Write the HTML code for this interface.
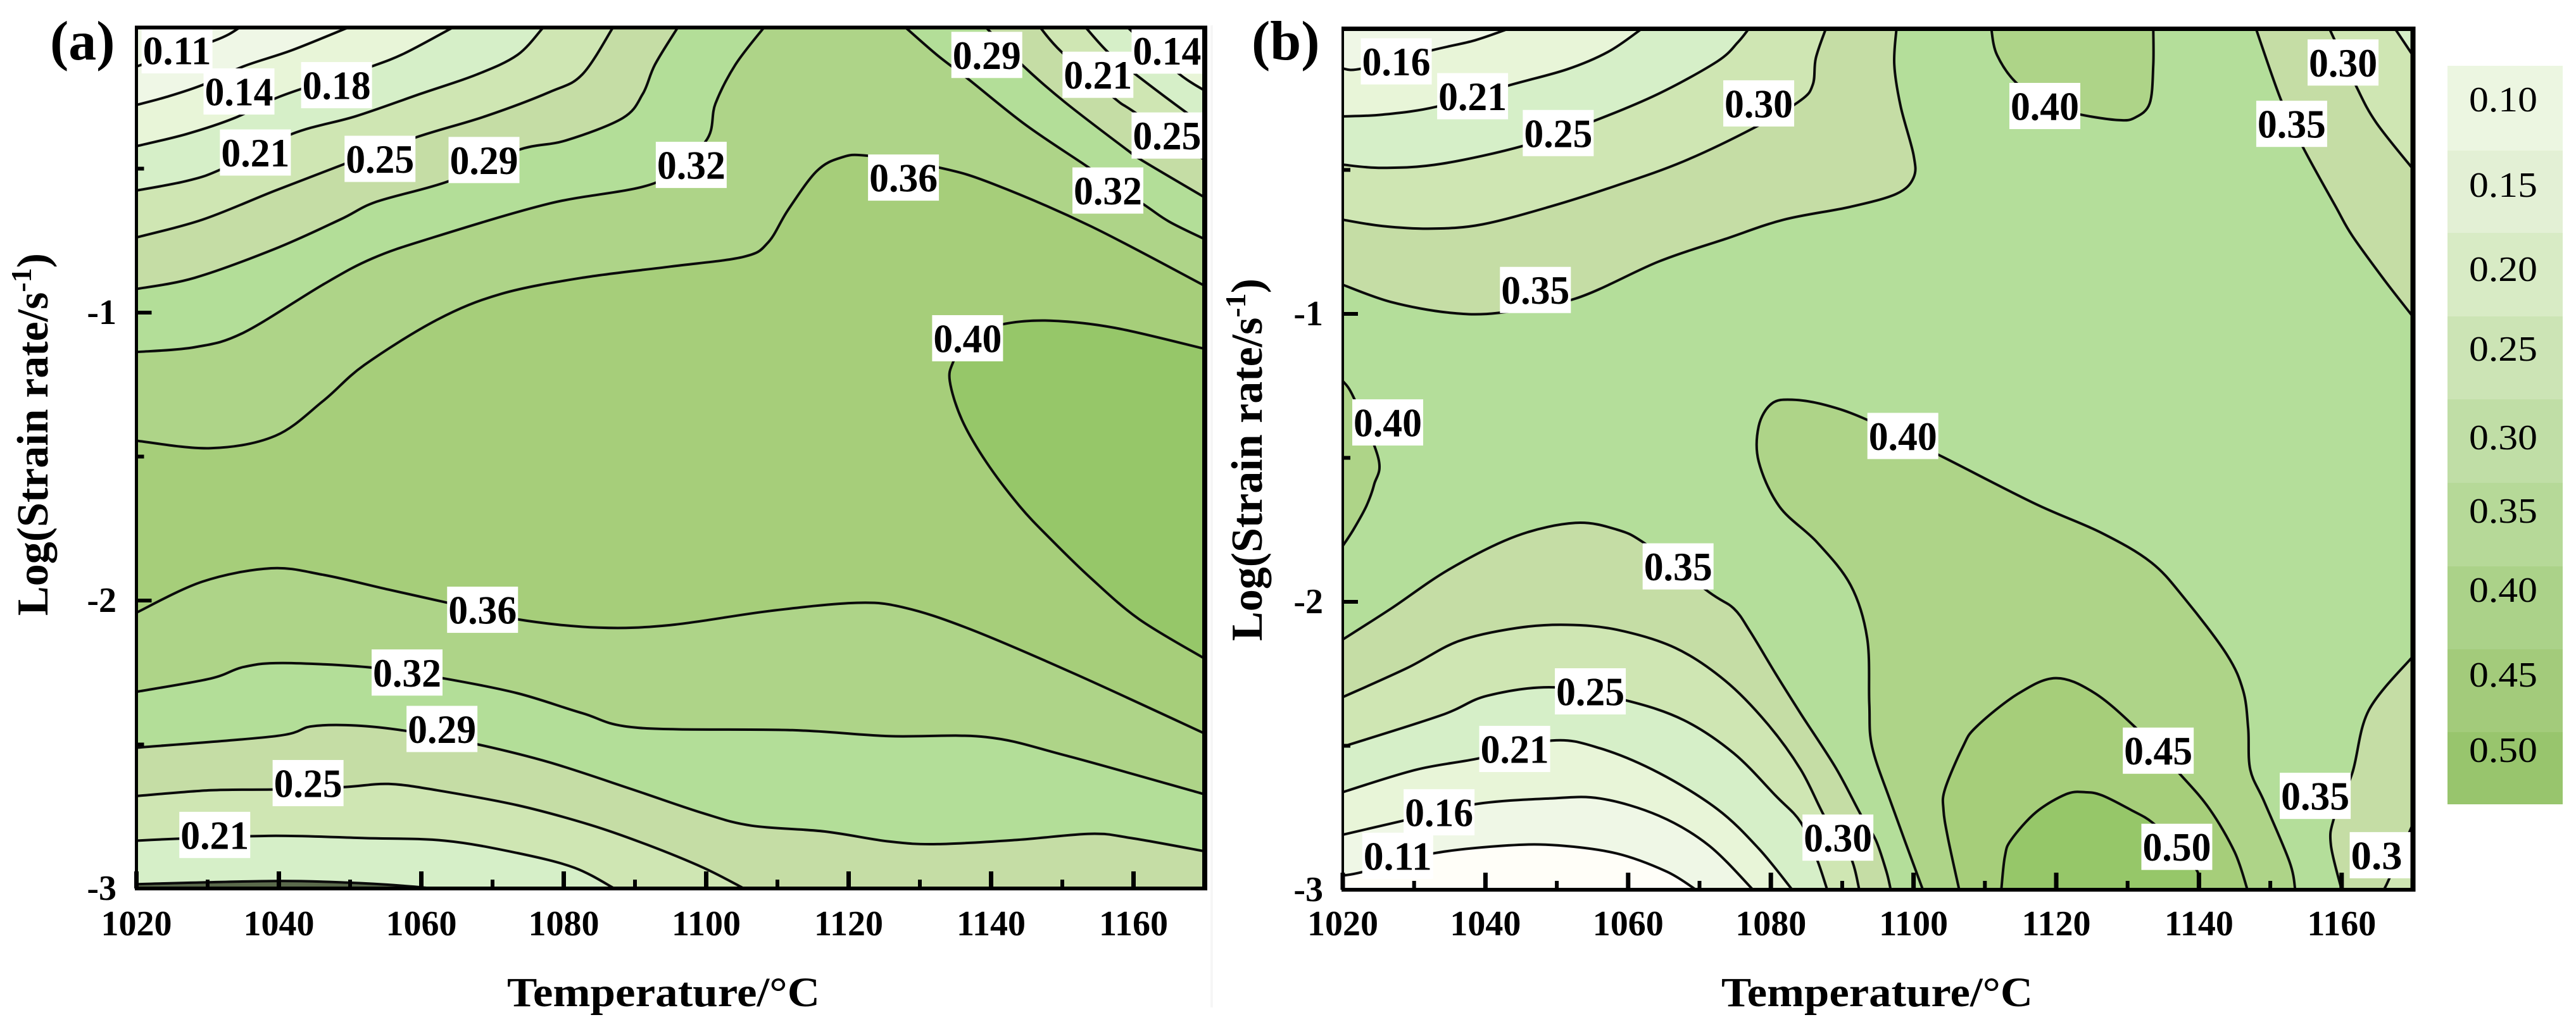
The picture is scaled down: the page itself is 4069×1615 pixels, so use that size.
<!DOCTYPE html>
<html lang="en">
<head>
<meta charset="utf-8">
<title>Contour maps (a) and (b)</title>
<style>
html,body{margin:0;padding:0;background:#fff;width:4069px;height:1615px;overflow:hidden}
svg{display:block}
text{font-family:"Liberation Serif",serif;fill:#000}
.b{font-weight:bold}
</style>
</head>
<body>
<svg id="chart" xmlns="http://www.w3.org/2000/svg" width="4069" height="1615" viewBox="0 0 4069 1615">
  <rect x="0" y="0" width="4069" height="1615" fill="#fff"/>
  <rect x="1912" y="40" width="4" height="1552" fill="#f6f6f6"/>

  <g id="panelA"></g>
  <g id="panelB"></g>

  <text class="b" x="79" y="94" font-size="88">(a)</text>
  <text class="b" x="1977" y="94" font-size="88">(b)</text>

  <text class="b" x="801" y="1590" font-size="66" textLength="494" lengthAdjust="spacingAndGlyphs">Temperature/°C</text>
  <text class="b" x="2719" y="1590" font-size="66" textLength="492" lengthAdjust="spacingAndGlyphs">Temperature/°C</text>

  <text class="b" font-size="70" transform="translate(75,973) rotate(-90)">Log(Strain rate/s<tspan font-size="46" dy="-26">-1</tspan><tspan dy="26">)</tspan></text>
  <text class="b" font-size="70" transform="translate(1993,1013) rotate(-90)">Log(Strain rate/s<tspan font-size="46" dy="-26">-1</tspan><tspan dy="26">)</tspan></text>

  <g>
    <rect x="3866" y="104" width="182" height="134" fill="#ECF6E1"/>
    <rect x="3866" y="238" width="182" height="130" fill="#E3F0D5"/>
    <rect x="3866" y="368" width="182" height="132" fill="#D8EBC5"/>
    <rect x="3866" y="500" width="182" height="131" fill="#CCE4B5"/>
    <rect x="3866" y="631" width="182" height="132" fill="#C0DEA6"/>
    <rect x="3866" y="763" width="182" height="132" fill="#B6D998"/>
    <rect x="3866" y="895" width="182" height="131" fill="#ABD289"/>
    <rect x="3866" y="1026" width="182" height="131" fill="#A3CB7B"/>
    <rect x="3866" y="1157" width="182" height="114" fill="#98C56D"/>
    <text x="3900" y="176" font-size="56" textLength="108" lengthAdjust="spacingAndGlyphs">0.10</text>
    <text x="3900" y="311" font-size="56" textLength="108" lengthAdjust="spacingAndGlyphs">0.15</text>
    <text x="3900" y="444" font-size="56" textLength="108" lengthAdjust="spacingAndGlyphs">0.20</text>
    <text x="3900" y="570" font-size="56" textLength="108" lengthAdjust="spacingAndGlyphs">0.25</text>
    <text x="3900" y="710" font-size="56" textLength="108" lengthAdjust="spacingAndGlyphs">0.30</text>
    <text x="3900" y="826" font-size="56" textLength="108" lengthAdjust="spacingAndGlyphs">0.35</text>
    <text x="3900" y="951" font-size="56" textLength="108" lengthAdjust="spacingAndGlyphs">0.40</text>
    <text x="3900" y="1085" font-size="56" textLength="108" lengthAdjust="spacingAndGlyphs">0.45</text>
    <text x="3900" y="1204" font-size="56" textLength="108" lengthAdjust="spacingAndGlyphs">0.50</text>
  </g>
</svg>

<script>
/* ---------- shared axis values ---------- */
const tempDomain = [1020, 1170];
const rateDomain = [-3, -0.01];
const tempMajorTicks = [1020, 1040, 1060, 1080, 1100, 1120, 1140, 1160];
const tempMinorTicks = [1030, 1050, 1070, 1090, 1110, 1130, 1150];
const rateMajorTicks = [-1, -2, -3];
const rateMinorTicks = [-0.5, -1.5, -2.5];

/* ---------- panel (a) contours: [temperature, log strain rate] ---------- */
const a_top_011 = [[1020,-0.145],[1031,-0.055],[1034.5,-0.01]];
const a_top_014 = [[1020,-0.279],[1024.2,-0.251],[1029.3,-0.209],[1035,-0.145],[1041.8,-0.089],[1049.7,-0.01]];
const a_top_018 = [[1020,-0.422],[1027,-0.38],[1033.8,-0.324],[1040,-0.251],[1048,-0.184],[1053,-0.145],[1057.6,-0.1],[1064.4,-0.01]];
const a_top_021 = [[1020,-0.576],[1027,-0.543],[1031.8,-0.503],[1041.8,-0.38],[1050.8,-0.318],[1059.9,-0.24],[1067.8,-0.173],[1073.5,-0.105],[1077.1,-0.01]];
const a_top_025 = [[1020,-0.739],[1029.3,-0.677],[1039.5,-0.576],[1049.5,-0.481],[1059.3,-0.391],[1069,-0.318],[1078,-0.234],[1082.6,-0.173],[1086.9,-0.01]];
const a_top_029 = [[1020,-0.918],[1028.2,-0.879],[1039.5,-0.778],[1048.6,-0.677],[1053.7,-0.615],[1063.9,-0.543],[1073.5,-0.436],[1080.3,-0.402],[1088.3,-0.324],[1091.1,-0.24],[1092.8,-0.139],[1096,-0.01]];
const a_top_032 = [[1020,-1.137],[1028.2,-1.12],[1035,-1.07],[1046.3,-0.901],[1053.1,-0.812],[1061,-0.744],[1078,-0.621],[1093,-0.548],[1099.9,-0.406],[1101.3,-0.274],[1104.1,-0.139],[1108.1,-0.01]];
const a_upper_036 = [[1020,-1.445],[1030.4,-1.471],[1039.5,-1.428],[1046.3,-1.305],[1052,-1.182],[1062.2,-1.025],[1071.2,-0.935],[1082.6,-0.879],[1095,-0.84],[1105.3,-0.806],[1108.7,-0.756],[1111.5,-0.643],[1115.5,-0.509],[1118.9,-0.462],[1122.6,-0.455],[1133,-0.498],[1140.4,-0.554],[1154,-0.7],[1170,-0.907]];
const a_right_032 = [[1128,-0.01],[1132.4,-0.105],[1136.8,-0.189],[1144.8,-0.347],[1153.1,-0.486],[1161.4,-0.624],[1165,-0.684],[1170,-0.745]];
const a_right_029 = [[1139.3,-0.01],[1144.6,-0.145],[1150.2,-0.266],[1159.1,-0.435],[1161.1,-0.47],[1170,-0.6]];
const a_right_025 = [[1146.9,-0.01],[1149.9,-0.095],[1157.3,-0.255],[1160.1,-0.303],[1170,-0.47]];
const a_right_021 = [[1153.3,-0.01],[1156.4,-0.095],[1160,-0.167],[1167.3,-0.303],[1170,-0.347]];
const a_right_018 = [[1159.2,-0.01],[1166.2,-0.167],[1170,-0.229]];
const a_peak_040 = [[1170,-1.126],[1157.4,-1.053],[1148.3,-1.028],[1141.5,-1.041],[1136.5,-1.09],[1134.7,-1.17],[1134.2,-1.238],[1135.9,-1.372],[1139.3,-1.518],[1144,-1.672],[1148.3,-1.785],[1154,-1.922],[1160.8,-2.065],[1170,-2.202]];
const a_lower_036 = [[1020,-2.042],[1029.3,-1.934],[1038.9,-1.888],[1046.3,-1.911],[1055.4,-1.962],[1063.7,-2.008],[1073.5,-2.065],[1084.9,-2.094],[1095,-2.085],[1108.7,-2.037],[1121.1,-2.008],[1127.9,-2.025],[1137,-2.099],[1151.7,-2.254],[1170,-2.462]];
const a_lower_032 = [[1020,-2.317],[1030.4,-2.271],[1035,-2.231],[1040.6,-2.217],[1053.1,-2.233],[1063.3,-2.271],[1073.5,-2.322],[1082.6,-2.391],[1090.5,-2.442],[1112.1,-2.45],[1125.7,-2.471],[1139.3,-2.474],[1150.6,-2.539],[1170,-2.673]];
const a_lower_029 = [[1020,-2.511],[1039.5,-2.471],[1044.6,-2.437],[1050.8,-2.434],[1058.2,-2.454],[1067.8,-2.499],[1078,-2.562],[1089.4,-2.654],[1099.6,-2.739],[1106.4,-2.782],[1116.6,-2.802],[1125.7,-2.837],[1132.5,-2.846],[1143.8,-2.831],[1154,-2.81],[1159.7,-2.825],[1170,-2.871]];
const a_lower_025 = [[1020,-2.679],[1030.4,-2.659],[1039.5,-2.656],[1049.1,-2.648],[1055.4,-2.637],[1062.2,-2.659],[1073.5,-2.711],[1083.7,-2.779],[1091.7,-2.848],[1099.6,-2.928],[1105.3,-3]];
const a_lower_021 = [[1020,-2.834],[1026.1,-2.827],[1039.5,-2.817],[1052,-2.825],[1063.3,-2.834],[1073.5,-2.877],[1081.5,-2.928],[1087.1,-3]];
const a_lower_018 = [[1020,-2.985],[1039.3,-2.974],[1050,-2.98],[1057.1,-2.99],[1061.6,-3]];

const a_labels = [
  ["0.11",1025.7,-0.089],["0.14",1034.4,-0.232],["0.18",1048.1,-0.21],["0.21",1036.7,-0.444],
  ["0.25",1054.2,-0.466],["0.29",1068.8,-0.47],["0.32",1097.9,-0.487],["0.36",1127.7,-0.531],
  ["0.40",1136.7,-1.089],["0.29",1139.4,-0.105],["0.21",1155,-0.174],["0.14",1164.7,-0.09],
  ["0.25",1164.7,-0.385],["0.32",1156.4,-0.576],["0.36",1068.6,-2.032],["0.32",1058,-2.25],
  ["0.29",1062.9,-2.446],["0.25",1044.1,-2.634],["0.21",1031,-2.814]
];

/* ---------- panel (b) contours: [temperature, log strain rate] ---------- */
const b_top_016 = [[1020,-0.148],[1022.7,-0.148],[1032.6,-0.084],[1038.5,-0.05],[1043.2,-0.01]];
const b_top_021 = [[1020,-0.314],[1025.6,-0.308],[1033.2,-0.28],[1043.2,-0.207],[1051.4,-0.151],[1057.2,-0.09],[1061.9,-0.01]];
const b_top_025 = [[1020,-0.482],[1025.6,-0.493],[1033.8,-0.479],[1045.5,-0.415],[1055.1,-0.331],[1064.3,-0.235],[1072.5,-0.123],[1075.4,-0.056],[1076.9,-0.01]];
const b_top_030 = [[1020,-0.673],[1025.6,-0.695],[1032.6,-0.704],[1039.6,-0.689],[1049,-0.628],[1058.3,-0.555],[1067.7,-0.471],[1077.7,-0.353],[1084.2,-0.258],[1085.9,-0.202],[1086.3,-0.112],[1087.7,-0.01]];
const b_top_035 = [[1020,-0.899],[1026.8,-0.959],[1035,-0.996],[1042,-0.996],[1052.6,-0.947],[1064.3,-0.818],[1073.6,-0.74],[1081.8,-0.673],[1091.2,-0.628],[1097.6,-0.583],[1100,-0.527],[1100,-0.448],[1098.2,-0.28],[1097.3,-0.135],[1097.6,-0.01]];
const b_pocket_top_040 = [[1110.9,-0.01],[1111.7,-0.101],[1114.6,-0.202],[1119.6,-0.28],[1123.4,-0.308],[1128.7,-0.327],[1131,-0.319],[1133.1,-0.269],[1133.6,-0.135],[1133.6,-0.01]];
const b_right_035 = [[1148,-0.01],[1151.5,-0.257],[1154.6,-0.422],[1159.2,-0.629],[1161.5,-0.729],[1166.1,-0.886],[1170,-1.01]];
const b_right_030 = [[1158.3,-0.01],[1162,-0.207],[1164.8,-0.334],[1170,-0.497]];
const b_right_025 = [[1167.5,-0.01],[1170,-0.103]];
const b_pocket_left_040 = [[1020,-1.233],[1021.5,-1.289],[1025,-1.502],[1024.4,-1.592],[1023.3,-1.668],[1021.5,-1.749],[1020,-1.806]];
const b_center_040 = [[1101.3,-3],[1096.9,-2.702],[1094.2,-2.504],[1093.8,-2.354],[1093.5,-2.126],[1091.2,-1.943],[1086.5,-1.794],[1081.2,-1.669],[1078.3,-1.513],[1078.3,-1.39],[1080.1,-1.312],[1083,-1.298],[1087.7,-1.317],[1093.5,-1.368],[1104.1,-1.497],[1117,-1.659],[1126.3,-1.76],[1133.3,-1.863],[1138,-1.989],[1143.9,-2.183],[1146.2,-2.309],[1146.9,-2.44],[1147.2,-2.583],[1149.2,-2.697],[1152.7,-2.903],[1153.5,-3]];
const b_center_045 = [[1106.4,-3],[1104.8,-2.818],[1104.2,-2.723],[1104.4,-2.651],[1106.9,-2.504],[1108.8,-2.434],[1114.6,-2.32],[1119.9,-2.265],[1125.2,-2.314],[1131,-2.434],[1137.4,-2.6],[1141.5,-2.72],[1145,-2.869],[1146.8,-3]];
const b_center_050 = [[1112.3,-3],[1112.8,-2.884],[1113.7,-2.826],[1117.2,-2.73],[1121.4,-2.668],[1124,-2.661],[1126.4,-2.672],[1130.5,-2.723],[1133.5,-2.767],[1136.9,-2.851],[1139.8,-2.937],[1140.1,-3]];
const b_dome_035 = [[1020,-2.131],[1026.8,-2.023],[1035,-1.886],[1044.4,-1.771],[1052.6,-1.726],[1058.4,-1.749],[1062.5,-1.8],[1071.3,-1.966],[1074.8,-2.023],[1077.1,-2.103],[1080.7,-2.251],[1084.2,-2.389],[1089.1,-2.577],[1092.6,-2.739],[1094.7,-2.827],[1096.2,-2.937],[1096.8,-3]];
const b_dome_030 = [[1020,-2.331],[1029.1,-2.229],[1036.2,-2.137],[1044.4,-2.091],[1051.4,-2.08],[1058.4,-2.097],[1066.6,-2.16],[1073.6,-2.274],[1079.5,-2.423],[1084.2,-2.583],[1087.7,-2.754],[1091.1,-2.882],[1092.4,-3]];
const b_dome_025 = [[1020,-2.503],[1033.8,-2.394],[1040.3,-2.326],[1049.7,-2.297],[1059.8,-2.343],[1067.8,-2.411],[1074.8,-2.526],[1080.7,-2.674],[1084.2,-2.766],[1086.5,-2.897],[1087.9,-3]];
const b_dome_021 = [[1020,-2.661],[1030.3,-2.583],[1039.2,-2.543],[1049.3,-2.482],[1056.1,-2.509],[1064.3,-2.594],[1072.5,-2.72],[1078.3,-2.857],[1083,-3]];
const b_dome_016 = [[1020,-2.809],[1028.5,-2.76],[1038.5,-2.703],[1049,-2.683],[1056.1,-2.683],[1064.3,-2.743],[1071.3,-2.846],[1077.5,-3]];
const b_dome_011 = [[1020,-2.951],[1023,-2.937],[1032.6,-2.874],[1043.2,-2.846],[1050.2,-2.846],[1058.4,-2.874],[1065.4,-2.937],[1069.5,-3]];
const b_corner_035 = [[1170,-2.189],[1163.8,-2.377],[1161.5,-2.594],[1158.9,-2.754],[1158.5,-2.846],[1160,-3]];
const b_corner_030 = [[1170,-2.771],[1166.7,-2.96],[1165.9,-3]];

const b_labels = [
  ["0.16",1027.5,-0.123],["0.21",1038.2,-0.244],["0.25",1050.2,-0.372],["0.30",1078.3,-0.269],
  ["0.40",1118.4,-0.278],["0.30",1160.2,-0.127],["0.35",1153,-0.34],["0.35",1047,-0.917],
  ["0.40",1026.3,-1.377],["0.40",1098.5,-1.424],["0.35",1067,-1.877],["0.25",1054.7,-2.311],
  ["0.21",1044.1,-2.511],["0.16",1033.5,-2.731],["0.11",1027.7,-2.882],["0.30",1089.4,-2.819],
  ["0.45",1134.3,-2.517],["0.35",1156.3,-2.674],["0.50",1136.9,-2.851],["0.3",1166.1,-2.88]
];

/* ---------- drawing ---------- */
const NS = 'http://www.w3.org/2000/svg';
function mk(parent, tag, attrs) {
  const el = document.createElementNS(NS, tag);
  for (const k in attrs) el.setAttribute(k, attrs[k]);
  parent.appendChild(el);
  return el;
}
const TL = [tempDomain[0], rateDomain[1]];
const TR = [tempDomain[1], rateDomain[1]];
const BL = [tempDomain[0], rateDomain[0]];
const BR = [tempDomain[1], rateDomain[0]];

const colA = {c05:'#FFFEF8', c11:'#EFF7E6', c14:'#E8F5D8', c18:'#D6EFC8', c21:'#CFE6B3', c25:'#C5DDA5', c29:'#B3DE98', c32:'#AED488', c36:'#A6CE7A', c40:'#96C769'};

function smoothPath(P) {
  let d = 'M' + P[0][0].toFixed(1) + ' ' + P[0][1].toFixed(1);
  for (let i = 0; i < P.length - 1; i++) {
    const p0 = P[Math.max(0, i - 1)], p1 = P[i], p2 = P[i + 1], p3 = P[Math.min(P.length - 1, i + 2)];
    const c1x = p1[0] + (p2[0] - p0[0]) / 6, c1y = p1[1] + (p2[1] - p0[1]) / 6;
    const c2x = p2[0] - (p3[0] - p1[0]) / 6, c2y = p2[1] - (p3[1] - p1[1]) / 6;
    d += 'C' + c1x.toFixed(1) + ' ' + c1y.toFixed(1) + ' ' + c2x.toFixed(1) + ' ' + c2y.toFixed(1) + ' ' + p2[0].toFixed(1) + ' ' + p2[1].toFixed(1);
  }
  return d;
}

function drawPanel(root, cfg) {
  const x = t => cfg.x0 + (t - tempDomain[0]) * cfg.xs;
  const y = r => cfg.y1 + (-1 - r) * cfg.ys;
  const px = p => [x(p[0]), y(p[1])];
  const left = x(tempDomain[0]), right = x(tempDomain[1]), top = y(rateDomain[1]), bottom = y(rateDomain[0]);

  const defs = mk(root, 'defs', {});
  const cp = mk(defs, 'clipPath', {id: cfg.id + '-clip'});
  mk(cp, 'rect', {x: left, y: top, width: right - left, height: bottom - top});
  const g = mk(root, 'g', {'clip-path': 'url(#' + cfg.id + '-clip)'});

  const bg = mk(g, 'rect', {x: left, y: top, width: right - left, height: bottom - top, fill: cfg.base});
  
  

  cfg.contours.forEach(c => {
    const P = c.pts.map(px);
    let d = smoothPath(P);
    (c.close || []).forEach(k => { const q = px(k); d += 'L' + q[0].toFixed(1) + ' ' + q[1].toFixed(1); });
    const f = mk(g, 'path', {d: d + 'Z', fill: c.fill, stroke: 'none'});
    
    
  });
  cfg.contours.forEach(c => {
    const l = mk(g, 'path', {d: smoothPath(c.pts.map(px)), fill: 'none', stroke: '#0b0b0b', 'stroke-width': 4, 'stroke-linejoin': 'round'});
    
    
  });

  tempMajorTicks.forEach(t => {
    const k = mk(root, 'rect', {x: x(t) - 3.5, y: bottom - 27, width: 7, height: 27, fill: '#000'});
    
    
    const s = mk(root, 'text', {x: x(t), y: 1478, 'font-size': 56, 'font-weight': 'bold', 'text-anchor': 'middle'});
    s.textContent = String(t);
    
    
  });
  tempMinorTicks.forEach(t => {
    const k = mk(root, 'rect', {x: x(t) - 3, y: bottom - 14, width: 6, height: 14, fill: '#000'});
    
    
  });
  rateMajorTicks.forEach(r => {
    const k = mk(root, 'rect', {x: left, y: y(r) - 3, width: 24, height: 6, fill: '#000'});
    
    
    const s = mk(root, 'text', {x: cfg.tickEnd, y: y(r) + 18, 'font-size': 56, 'font-weight': 'bold', 'text-anchor': 'end'});
    s.textContent = String(r);
    
    
  });
  rateMinorTicks.forEach(r => {
    const k = mk(root, 'rect', {x: left, y: y(r) - 3, width: 12, height: 6, fill: '#000'});
    
    
  });

  const lg = mk(root, 'g', {'clip-path': 'url(#' + cfg.id + '-clip)'});
  cfg.labels.forEach(l => {
    const cx = x(l[1]), cy = y(l[2]);
    const r = mk(lg, 'rect', {x: cx - 56, y: cy - 36.5, width: 112, height: 73, fill: '#fff'});
    
    
    const t = mk(lg, 'text', {x: cx - 54, y: cy + 22, 'font-size': 64, 'font-weight': 'bold', textLength: 108 * l[0].length / 4, lengthAdjust: 'spacingAndGlyphs'});
    t.textContent = l[0];
    
    
  });

  [[left, top, right, top, cfg.wTop], [left, bottom, right, bottom, cfg.wBottom], [left, top - cfg.wTop / 2, left, bottom + cfg.wBottom / 2, cfg.wLeft], [right, top - cfg.wTop / 2, right, bottom + cfg.wBottom / 2, cfg.wRight]].forEach(b => {
    const e = mk(root, 'line', {x1: b[0], y1: b[1], x2: b[2], y2: b[3], stroke: '#000', 'stroke-width': b[4]});
    
    
  });
}

drawPanel(document.getElementById('panelA'), {
  id: 'a', x0: 215.5, xs: 11.25, y1: 494, ys: 455, tickEnd: 184,
  wTop: 6, wBottom: 6, wLeft: 5, wRight: 8,
  base: colA.c36,
  labels: a_labels,
  contours: [
    {pts: a_upper_036, fill: colA.c32, close: [TR, TL]},
    {pts: a_top_032, fill: colA.c29, close: [TL]},
    {pts: a_top_029, fill: colA.c25, close: [TL]},
    {pts: a_top_025, fill: colA.c21, close: [TL]},
    {pts: a_top_021, fill: colA.c18, close: [TL]},
    {pts: a_top_018, fill: colA.c14, close: [TL]},
    {pts: a_top_014, fill: colA.c11, close: [TL]},
    {pts: a_top_011, fill: colA.c11, close: [TL]},
    {pts: a_right_032, fill: colA.c29, close: [TR]},
    {pts: a_right_029, fill: colA.c25, close: [TR]},
    {pts: a_right_025, fill: colA.c21, close: [TR]},
    {pts: a_right_021, fill: colA.c18, close: [TR]},
    {pts: a_right_018, fill: colA.c14, close: [TR]},
    {pts: a_peak_040, fill: colA.c40},
    {pts: a_lower_036, fill: colA.c32, close: [BR, BL]},
    {pts: a_lower_032, fill: colA.c29, close: [BR, BL]},
    {pts: a_lower_029, fill: colA.c25, close: [BR, BL]},
    {pts: a_lower_025, fill: colA.c21, close: [BL]},
    {pts: a_lower_021, fill: colA.c18, close: [BL]},
    {pts: a_lower_018, fill: '#5b6a4c', close: [BL]}
  ]
});

drawPanel(document.getElementById('panelB'), {
  id: 'b', x0: 2121, xs: 11.27, y1: 496, ys: 455, tickEnd: 2090,
  wTop: 7, wBottom: 6, wLeft: 4, wRight: 8,
  base: '#B4DE9A',
  labels: b_labels,
  contours: [
    {pts: b_top_035, fill: colA.c25, close: [TL]},
    {pts: b_top_030, fill: colA.c21, close: [TL]},
    {pts: b_top_025, fill: colA.c18, close: [TL]},
    {pts: b_top_021, fill: colA.c14, close: [TL]},
    {pts: b_top_016, fill: colA.c11, close: [TL]},
    {pts: b_pocket_top_040, fill: colA.c32},
    {pts: b_right_035, fill: colA.c25, close: [TR]},
    {pts: b_right_030, fill: colA.c21, close: [TR]},
    {pts: b_right_025, fill: colA.c18, close: [TR]},
    {pts: b_pocket_left_040, fill: colA.c32},
    {pts: b_center_040, fill: colA.c32},
    {pts: b_center_045, fill: colA.c36},
    {pts: b_center_050, fill: colA.c40},
    {pts: b_dome_035, fill: colA.c25, close: [BL]},
    {pts: b_dome_030, fill: colA.c21, close: [BL]},
    {pts: b_dome_025, fill: colA.c18, close: [BL]},
    {pts: b_dome_021, fill: colA.c14, close: [BL]},
    {pts: b_dome_016, fill: colA.c11, close: [BL]},
    {pts: b_dome_011, fill: colA.c05, close: [BL]},
    {pts: b_corner_035, fill: colA.c25, close: [BR]},
    {pts: b_corner_030, fill: colA.c21, close: [BR]}
  ]
});
</script>
</body>
</html>
